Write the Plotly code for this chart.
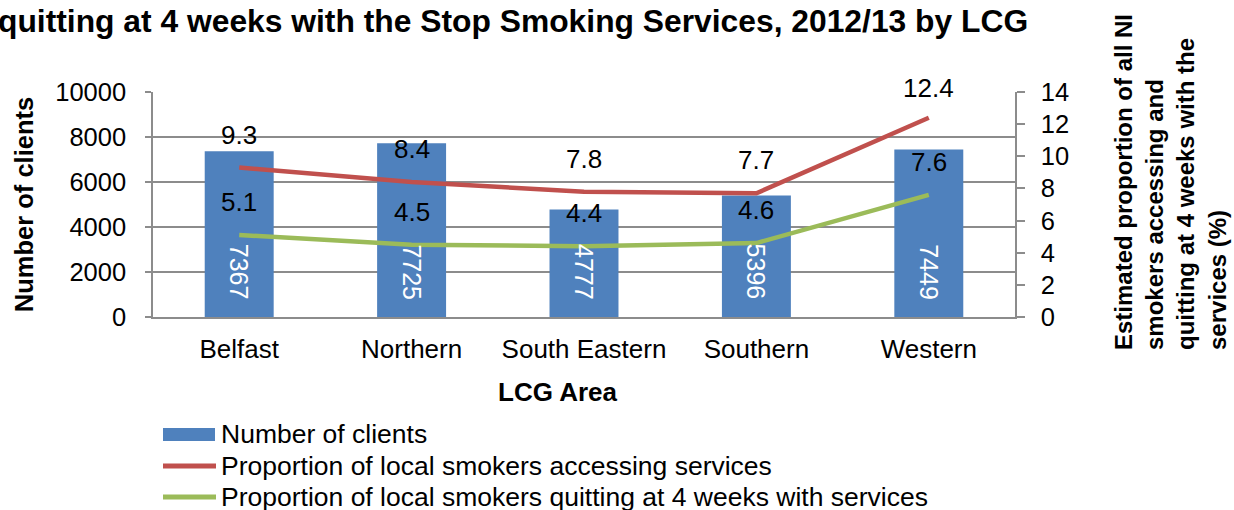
import plotly.graph_objects as go

# LCG areas and values
areas = ["Belfast", "Northern", "South Eastern", "Southern", "Western"]
clients = [7367, 7725, 4777, 5396, 7449]
accessing_pct = [9.3, 8.4, 7.8, 7.7, 12.4]
quitting_pct = [5.1, 4.5, 4.4, 4.6, 7.6]

left_ticks = [0, 2000, 4000, 6000, 8000, 10000]
right_ticks = [0, 2, 4, 6, 8, 10, 12, 14]

BLUE = "#4F81BD"
RED = "#C0504D"
GREEN = "#9BBB59"
GRID = "#8C8C8C"
FONT = "Liberation Sans, Arial, sans-serif"

W, H = 1234, 510
M_L, M_R, M_T, M_B = 153, 219, 92, 193
plot_w = W - M_L - M_R
plot_h = H - M_T - M_B
Y2_MAX = 14


def px_x(px):
    """Page pixel column -> paper x."""
    return (px - M_L) / plot_w


def px_y(py):
    """Page pixel row -> paper y."""
    return (H - M_B - py) / plot_h


fig = go.Figure()

fig.add_trace(go.Bar(
    x=areas, y=clients, name="Number of clients",
    marker=dict(color=BLUE, line=dict(width=0)),
    showlegend=False,
))

# client counts written up the bars from their base
for a, v in zip(areas, clients):
    fig.add_annotation(
        x=a, y=0, xref="x", yref="y", text=str(v), textangle=90,
        xanchor="center", yanchor="bottom", yshift=15, showarrow=False,
        font=dict(size=25, color="white", family=FONT),
    )

series = [
    (accessing_pct, "Proportion of local smokers accessing services", RED),
    (quitting_pct, "Proportion of local smokers quitting at 4 weeks with services", GREEN),
]
for vals, name, col in series:
    fig.add_trace(go.Scatter(
        x=areas, y=vals, name=name, yaxis="y2", mode="lines",
        line=dict(color=col, width=4.5), showlegend=False,
    ))
    # value labels above each point, kept inside the plotting area near the top
    for a, v in zip(areas, vals):
        dist_top = (Y2_MAX - v) / Y2_MAX * plot_h
        shift = min(33, dist_top + 4)
        fig.add_annotation(
            x=a, y=v, xref="x", yref="y2", text=f"{v}", showarrow=False,
            yshift=shift, font=dict(size=26, color="black", family=FONT),
        )

# legend drawn beneath the axis title
legend_rows = [
    ("Number of clients", BLUE, "bar", 434),
    (series[0][1], RED, "line", 466),
    (series[1][1], GREEN, "line", 497),
]
for label, col, kind, row in legend_rows:
    if kind == "bar":
        fig.add_shape(type="rect", xref="paper", yref="paper",
                      x0=px_x(163), x1=px_x(215), y0=px_y(428), y1=px_y(441),
                      fillcolor=col, line=dict(width=0))
    else:
        fig.add_shape(type="line", xref="paper", yref="paper",
                      x0=px_x(163), x1=px_x(216), y0=px_y(row), y1=px_y(row),
                      line=dict(color=col, width=5))
    fig.add_annotation(
        xref="paper", yref="paper", x=px_x(219), y=px_y(row),
        xanchor="left", yanchor="middle", text=label, showarrow=False,
        font=dict(size=26.5, family=FONT, color="black"),
    )

fig.update_layout(
    width=W, height=H,
    margin=dict(l=M_L, r=M_R, t=M_T, b=M_B),
    paper_bgcolor="white", plot_bgcolor="white",
    font=dict(family=FONT, size=26, color="black"),
    bargap=0.6,
    showlegend=False,
    xaxis=dict(
        showline=True, linecolor=GRID, linewidth=1.5, ticks="",
        showgrid=False, tickfont=dict(size=26), ticklabelstandoff=8,
    ),
    yaxis=dict(
        range=[0, 10000], tickvals=left_ticks, tickformat="d",
        showgrid=True, gridcolor=GRID, gridwidth=1.5,
        showline=True, linecolor=GRID, linewidth=1.5,
        ticks="outside", ticklen=6, tickcolor=GRID, tickwidth=1.5,
        tickfont=dict(size=25.5), ticklabelstandoff=14, zeroline=False,
        title=dict(text="<b>Number of clients</b>", font=dict(size=25.5), standoff=14),
    ),
    yaxis2=dict(
        range=[0, Y2_MAX], tickvals=right_ticks, overlaying="y", side="right",
        showgrid=False, showline=True, linecolor=GRID, linewidth=1.5,
        ticks="outside", ticklen=8, tickcolor=GRID, tickwidth=1.5,
        tickfont=dict(size=25.5), ticklabelstandoff=11, zeroline=False,
    ),
)

# category axis title
fig.add_annotation(
    xref="paper", yref="paper", x=px_x(557), y=px_y(392),
    xanchor="center", yanchor="middle", text="<b>LCG Area</b>",
    showarrow=False, font=dict(size=26, family=FONT),
)

# right-hand axis title, four rotated lines
fig.add_annotation(
    xref="paper", yref="paper", x=px_x(1170), y=px_y(182),
    xanchor="center", yanchor="middle",
    text="<b>Estimated proportion of all NI<br>smokers accessing and<br>"
         "quitting at 4 weeks with the<br>services (%)</b>",
    textangle=-90, align="left", showarrow=False,
    font=dict(size=24, family=FONT),
)

# chart title
fig.add_annotation(
    xref="paper", yref="paper", x=px_x(513), y=px_y(21),
    xanchor="center", yanchor="middle",
    text="<b>quitting at 4 weeks with the Stop Smoking Services, 2012/13 by LCG</b>",
    showarrow=False, font=dict(size=31.8, family=FONT),
)

fig.write_html("out.html")
